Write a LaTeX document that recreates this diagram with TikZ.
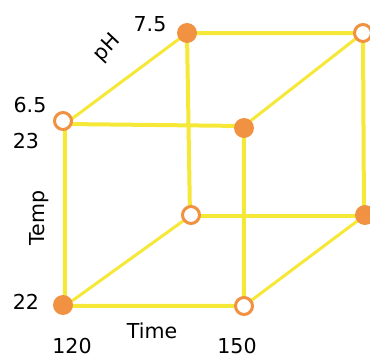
\documentclass[tikz,border=0pt]{standalone}
\usepackage{fontspec}
\setmainfont{DejaVu Sans}
\usepackage{tikz}
\usetikzlibrary{positioning}
\definecolor{edgeyellow}{RGB}{245,232,55}
\definecolor{dotorange}{RGB}{240,146,66}

\begin{document}
\begin{tikzpicture}[x=0.02cm,y=-0.02cm,
    edge/.style={edgeyellow,line width=0.08cm},
    depth/.style={edgeyellow,line width=0.06cm},
    filldot/.style={circle,fill=dotorange,inner sep=0pt,minimum size=0.4cm},
    opendot/.style={circle,draw=dotorange,fill=white,line width=0.06cm,inner sep=0pt,minimum size=0.34cm},
    lbl/.style={font=\fontsize{11.7}{14}\selectfont,inner sep=0pt}]
  \useasboundingbox (0,0) rectangle (370,362);
  % corners of the cube
  \coordinate (ftl) at (65,124); \coordinate (ftr) at (244,126);
  \coordinate (fbl) at (65,306); \coordinate (fbr) at (244,306);
  \coordinate (btl) at (187,33); \coordinate (btr) at (363,33);
  \coordinate (bbl) at (190,216); \coordinate (bbr) at (364,216);
  % edges
  \draw[edge] (btl) -- (btr) -- (bbr) -- (bbl) -- cycle;
  \draw[edge] (ftl) -- (ftr) -- (fbr) -- (fbl) -- cycle;
  \draw[depth] (ftl) -- (btl); \draw[depth] (ftr) -- (btr);
  \draw[depth] (fbl) -- (bbl); \draw[depth] (fbr) -- (bbr);
  % points
  \node[opendot] (pftl) at ([shift={(-2,-3)}]ftl) {};
  \node[filldot] (pftr) at ([shift={(0,2)}]ftr) {};
  \node[filldot] (pfbl) at ([shift={(-2,-1)}]fbl) {};
  \node[opendot] (pfbr) at (fbr) {};
  \node[filldot] (pbtl) at (btl) {};
  \node[opendot] (pbtr) at (btr) {};
  \node[opendot] (pbbl) at ([shift={(1,-1)}]bbl) {};
  \node[filldot] (pbbr) at ([shift={(1,-1)}]bbr) {};
  % labels
  \node[lbl] (ph75) at (150,24) {7.5};
  \node[lbl,rotate=47] (phlbl) at (107,48) {pH};
  \node[lbl] (ph65) at (30,105) {6.5};
  \node[lbl] (tp23) at (26,141) {23};
  \node[lbl,rotate=90] (tplbl) at (39,218) {Temp};
  \node[lbl] (tp22) at (26,302) {22};
  \node[lbl] (tm120) at (72,346) {120};
  \node[lbl] (tmlbl) at (152,331) {Time};
  \node[lbl] (tm150) at (237,346) {150};
\end{tikzpicture}
\end{document}
